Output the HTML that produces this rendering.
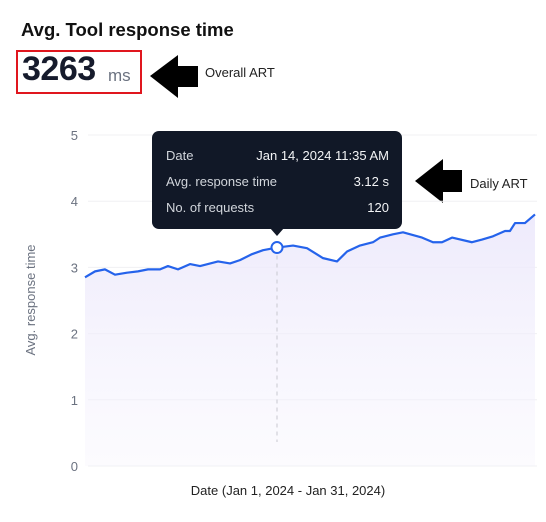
<!DOCTYPE html>
<html><head><meta charset="utf-8"><style>
body{margin:0;width:546px;height:522px;background:#fff;overflow:hidden;font-family:"Liberation Sans",sans-serif;position:relative}
.t{position:absolute;white-space:nowrap}
</style></head><body>
<div class="t" style="left:21px;top:19px;font-size:18.5px;font-weight:bold;color:#111">Avg. Tool response time</div>
<div style="position:absolute;left:16px;top:50px;width:126px;height:44px;border:2px solid #e0161e;box-sizing:border-box"></div>
<div class="t" style="left:22px;top:50px;font-size:34px;font-weight:bold;color:#161b2c;letter-spacing:-0.5px">3263</div>
<div class="t" style="left:108px;top:66px;font-size:17px;color:#6b7280">ms</div>
<div class="t" style="left:205px;top:65px;font-size:13px;color:#222">Overall ART</div>
<div class="t" style="left:470px;top:176px;font-size:13px;color:#222">Daily ART</div>
<svg width="546" height="522" style="position:absolute;left:0;top:0" id="svg">
<defs><linearGradient id="g" x1="0" y1="0" x2="0" y2="1"><stop offset="0" stop-color="#ece8fb" stop-opacity="0.9"/><stop offset="1" stop-color="#f4f2fd" stop-opacity="0.3"/></linearGradient></defs>
<polygon points="150,76 178,55 178,66 198,66 198,87 178,87 178,98" fill="#000"/>
<polygon points="415,181 443,159 443,170 462,170 462,192 443,192 443,203" fill="#000"/>
<g id="grid"></g><g id="plot"></g>
<text transform="translate(35,300) rotate(-90)" text-anchor="middle" font-size="13" fill="#6b7280" font-family="Liberation Sans, sans-serif">Avg. response time</text>
<text x="288" y="495" text-anchor="middle" font-size="13" fill="#222" font-family="Liberation Sans, sans-serif">Date (Jan 1, 2024 - Jan 31, 2024)</text>
<g>
<rect x="152" y="131" width="250" height="98" rx="7" fill="#111827"/>
<polygon points="270,228 284,228 277,236" fill="#111827"/>
<g font-family="Liberation Sans, sans-serif" font-size="13" fill="#d1d5db">
<text x="166" y="160">Date</text><text x="166" y="186">Avg. response time</text><text x="166" y="212">No. of requests</text>
</g>
<g font-family="Liberation Sans, sans-serif" font-size="13" fill="#f3f4f6" text-anchor="end">
<text x="389" y="160">Jan 14, 2024 11:35 AM</text><text x="389" y="186">3.12 s</text><text x="389" y="212">120</text>
</g></g>
</svg>
<script>
const days=[1,1.67,2.33,3,3.8,4.53,5.2,6,6.53,7.2,8,8.67,9.87,10.67,11.33,12.13,12.87,13.8,14.87,15.8,16.87,17.8,18.47,19.33,20.2,20.67,21.53,22.2,23.47,24.2,24.8,25.47,26.8,27.47,28.2,29,29.33,29.67,30.33,31];
const values=[2.85,2.94,2.97,2.89,2.92,2.94,2.97,2.97,3.02,2.97,3.05,3.02,3.09,3.06,3.11,3.2,3.26,3.3,3.33,3.29,3.14,3.09,3.24,3.33,3.38,3.45,3.5,3.53,3.45,3.38,3.38,3.45,3.38,3.42,3.47,3.55,3.55,3.67,3.67,3.8];
const yTicks=[0,1,2,3,4,5];
const hoverIndex=17;
const NS="http://www.w3.org/2000/svg";
const X=d=>85+(d-1)*15, Y=v=>466-v*66.2;
function mk(t,a,p){const e=document.createElementNS(NS,t);for(const k in a)e.setAttribute(k,a[k]);p.appendChild(e);return e;}
const grid=document.getElementById('grid'),plot=document.getElementById('plot');
yTicks.forEach(v=>{
 const l=mk('line',{x1:88,x2:537,y1:Y(v),y2:Y(v),stroke:'#f0f0f3','stroke-width':1},grid);
 
 
 const t=mk('text',{x:78,y:Y(v)+5,'text-anchor':'end','font-size':13,fill:'#6b7280','font-family':'Liberation Sans, sans-serif'},grid);
 t.textContent=v;
 
 
});
const pts=days.map((d,i)=>X(d)+','+Y(values[i])).join(' ');
const area=mk('polygon',{points:X(days[0])+','+Y(0)+' '+pts+' '+X(days[days.length-1])+','+Y(0),fill:'url(#g)'},plot);


const hx=X(days[hoverIndex]),hy=Y(values[hoverIndex]);
const vl=mk('line',{x1:hx,x2:hx,y1:hy,y2:442,stroke:'#c8c8d0','stroke-dasharray':'4,4'},plot);


const line=mk('polyline',{points:pts,fill:'none',stroke:'#2563eb','stroke-width':2.2,'stroke-linejoin':'round'},plot);


const c=mk('circle',{cx:hx,cy:hy,r:5.5,fill:'#fff',stroke:'#2563eb','stroke-width':2},plot);


</script>
</body></html>
